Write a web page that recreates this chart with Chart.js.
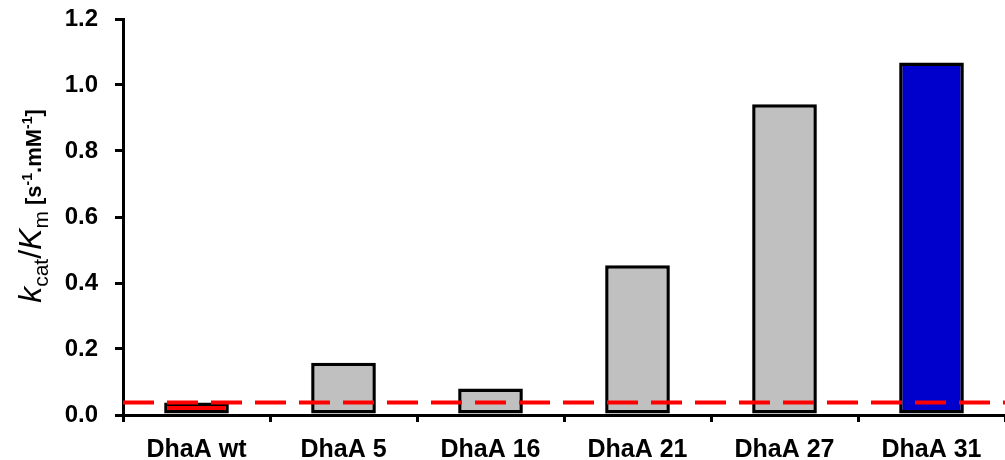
<!DOCTYPE html>
<html>
<head>
<meta charset="utf-8">
<script src="https://cdn.jsdelivr.net/npm/chart.js@4/dist/chart.umd.min.js"></script>
<style>
  html, body { margin: 0; padding: 0; background: #ffffff; }
  #wrap { width: 1005px; height: 460px; }
</style>
</head>
<body>
<div id="wrap"><canvas id="c" width="1005" height="460"></canvas></div>
<script>
// Catalytic efficiency of DhaA variants
const variants = ['DhaA wt', 'DhaA 5', 'DhaA 16', 'DhaA 21', 'DhaA 27', 'DhaA 31'];
const efficiency = [0.038, 0.158, 0.080, 0.454, 0.942, 1.068];
const barColors = ['#ff0000', '#c0c0c0', '#c0c0c0', '#c0c0c0', '#c0c0c0', '#0000cc'];
const wildTypeLevel = 0.038;
const yTicks = [0, 0.2, 0.4, 0.6, 0.8, 1.0, 1.2];

// Axis title pieces: text, style, baseline shift
const titleParts = [
  { t: 'k',   font: 'italic 32px "Liberation Sans", Arial, sans-serif', dy: 0 },
  { t: 'cat', font: '21px "Liberation Sans", Arial, sans-serif',        dy: 7 },
  { t: '/',   font: '32px "Liberation Sans", Arial, sans-serif',        dy: 0 },
  { t: 'K',   font: 'italic 32px "Liberation Sans", Arial, sans-serif', dy: 0 },
  { t: 'm',   font: '21px "Liberation Sans", Arial, sans-serif',        dy: 7 },
  { t: ' [s', font: 'bold 22px "Liberation Sans", Arial, sans-serif',   dy: 0 },
  { t: '-1',  font: 'bold 14px "Liberation Sans", Arial, sans-serif',   dy: -9 },
  { t: '.mM', font: 'bold 22px "Liberation Sans", Arial, sans-serif',   dy: 0 },
  { t: '-1',  font: 'bold 14px "Liberation Sans", Arial, sans-serif',   dy: -9 },
  { t: ']',   font: 'bold 22px "Liberation Sans", Arial, sans-serif',   dy: 0 }
];

// Dashed reference line at the wild-type level
const referenceLine = {
  id: 'referenceLine',
  afterDatasetsDraw(chart) {
    const { ctx, chartArea, scales } = chart;
    const y = scales.y.getPixelForValue(wildTypeLevel);
    ctx.save();
    ctx.strokeStyle = '#ff0000';
    ctx.lineWidth = 4;
    ctx.setLineDash([31, 13]);
    ctx.beginPath();
    ctx.moveTo(chartArea.left, y);
    ctx.lineTo(chartArea.right, y);
    ctx.stroke();
    ctx.restore();
  }
};

// Rotated y-axis title with sub/superscripts
const yTitle = {
  id: 'yTitle',
  afterDraw(chart) {
    const { ctx } = chart;
    ctx.save();
    let total = 0;
    titleParts.forEach(p => { ctx.font = p.font; p.w = ctx.measureText(p.t).width; total += p.w; });
    ctx.translate(41, 206);
    ctx.rotate(-Math.PI / 2);
    ctx.fillStyle = '#000000';
    ctx.textBaseline = 'alphabetic';
    ctx.textAlign = 'left';
    let x = -total / 2;
    titleParts.forEach(p => {
      ctx.font = p.font;
      ctx.fillText(p.t, x, p.dy);
      x += p.w;
    });
    ctx.restore();
  }
};

new Chart(document.getElementById('c'), {
  type: 'bar',
  data: {
    labels: variants,
    datasets: [{
      data: efficiency,
      backgroundColor: barColors,
      borderColor: '#000000',
      borderWidth: 3.5,
      borderSkipped: false,
      categoryPercentage: 1.0,
      barPercentage: 0.44
    }]
  },
  options: {
    responsive: false,
    animation: false,
    devicePixelRatio: 1,
    layout: { padding: { top: 19, right: -9, left: 0, bottom: 0 } },
    plugins: {
      legend: { display: false },
      tooltip: { enabled: false },
      title: { display: false }
    },
    scales: {
      x: {
        afterFit: s => { s.height = 45; s.paddingLeft = 0; s.paddingRight = 0; },
        grid: {
          offset: true,
          drawOnChartArea: false,
          drawTicks: true,
          tickLength: 7,
          color: '#000000',
          lineWidth: 3
        },
        border: { display: true, color: '#000000', width: 3 },
        ticks: {
          color: '#000000',
          padding: 13,
          font: { family: '"Liberation Sans", Arial, sans-serif', size: 25, weight: 'bold' }
        }
      },
      y: {
        min: 0,
        max: 1.2,
        afterFit: s => { s.width = 123; s.paddingTop = 0; s.paddingBottom = 0; },
        afterBuildTicks: s => { s.ticks = yTicks.map(v => ({ value: v })); },
        grid: {
          drawOnChartArea: false,
          drawTicks: true,
          tickLength: 8,
          color: '#000000',
          lineWidth: 3
        },
        border: { display: true, color: '#000000', width: 3 },
        ticks: {
          color: '#000000',
          padding: 17,
          callback: v => Number(v).toFixed(1),
          font: { family: '"Liberation Sans", Arial, sans-serif', size: 24, weight: 'bold' }
        }
      }
    }
  },
  plugins: [referenceLine, yTitle]
});
</script>
</body>
</html>
